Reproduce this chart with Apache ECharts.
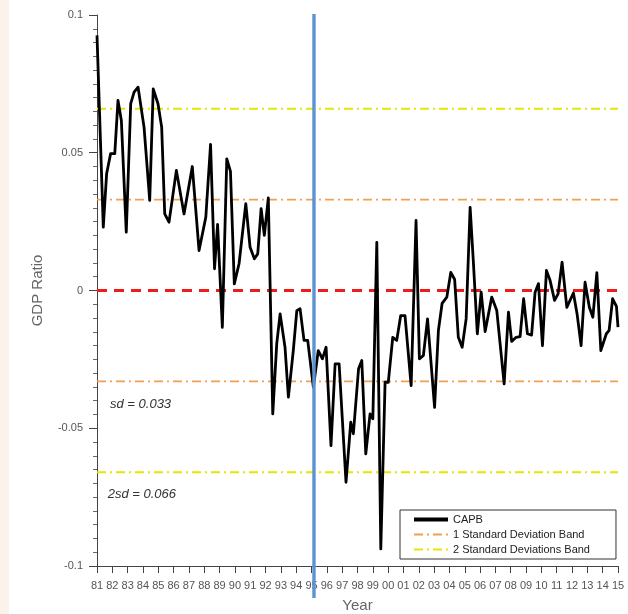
<!DOCTYPE html>
<html>
<head>
<meta charset="utf-8">
<script src="https://cdn.jsdelivr.net/npm/echarts@6/dist/echarts.min.js"></script>
<style>
html,body{margin:0;padding:0;background:#fff;}
#c{width:628px;height:614px;}
</style>
</head>
<body>
<div id="c"></div>
<script>
// ---- data ----
const years = [1981.00,1981.41,1981.63,1981.89,1982.16,1982.37,1982.59,1982.91,1983.20,1983.42,1983.68,1984.07,1984.44,1984.67,1984.98,1985.22,1985.42,1985.70,1986.18,1986.68,1987.22,1987.66,1988.10,1988.41,1988.67,1988.87,1989.18,1989.47,1989.71,1989.96,1990.27,1990.71,1990.99,1991.27,1991.49,1991.71,1991.92,1992.18,1992.47,1992.73,1992.95,1993.27,1993.49,1993.81,1994.04,1994.25,1994.51,1994.75,1995.12,1995.44,1995.71,1995.95,1996.27,1996.54,1996.80,1997.25,1997.56,1997.73,1998.07,1998.28,1998.54,1998.82,1999.00,1999.26,1999.52,1999.80,2000.01,2000.30,2000.56,2000.82,2001.10,2001.50,2001.82,2002.04,2002.30,2002.57,2003.03,2003.28,2003.52,2003.83,2004.09,2004.34,2004.58,2004.83,2005.09,2005.35,2005.56,2005.82,2006.07,2006.33,2006.76,2007.09,2007.57,2007.85,2008.06,2008.35,2008.61,2008.84,2009.09,2009.36,2009.59,2009.81,2010.07,2010.33,2010.57,2010.86,2011.09,2011.35,2011.66,2012.09,2012.33,2012.59,2012.85,2013.13,2013.36,2013.62,2013.88,2014.24,2014.42,2014.65,2014.90,2015.00];
const capb = [0.0926,0.0230,0.0425,0.0497,0.0497,0.0690,0.0617,0.0212,0.0678,0.0720,0.0738,0.0593,0.0327,0.0732,0.0678,0.0593,0.0278,0.0248,0.0436,0.0278,0.0450,0.0145,0.0266,0.0530,0.0079,0.0240,-0.0134,0.0478,0.0432,0.0024,0.0097,0.0315,0.0157,0.0115,0.0133,0.0297,0.0200,0.0336,-0.0448,-0.0193,-0.0085,-0.0206,-0.0387,-0.0218,-0.0073,-0.0066,-0.0181,-0.0181,-0.0351,-0.0218,-0.0248,-0.0206,-0.0563,-0.0266,-0.0266,-0.0696,-0.0478,-0.0520,-0.0284,-0.0254,-0.0593,-0.0448,-0.0466,0.0175,-0.0938,-0.0333,-0.0333,-0.0170,-0.0181,-0.0091,-0.0091,-0.0345,0.0254,-0.0248,-0.0236,-0.0103,-0.0424,-0.0145,-0.0047,-0.0024,0.0066,0.0040,-0.0170,-0.0206,-0.0103,0.0302,0.0105,-0.0157,-0.0006,-0.0149,-0.0024,-0.0073,-0.0339,-0.0079,-0.0185,-0.0170,-0.0167,-0.0030,-0.0157,-0.0162,-0.0006,0.0025,-0.0200,0.0073,0.0036,-0.0036,-0.0012,0.0103,-0.0061,-0.0009,-0.0085,-0.0200,0.0030,-0.0061,-0.0097,0.0065,-0.0218,-0.0157,-0.0145,-0.0030,-0.0058,-0.0133];
const sd = 0.033;
const twoSd = 0.066;
const xRange = [1981, 2015];
const yTicks = [-0.1, -0.05, 0, 0.05, 0.1];
const breakYear = 1995.16;
const sdLabel = 'sd = 0.033';
const twoSdLabel = '2sd = 0.066';

const chart = echarts.init(document.getElementById('c'), null, {renderer:'canvas'});
const font = 'Liberation Sans, Arial, sans-serif';
const dashDot = [9,4,2,4];

function hline(v){ return [[xRange[0], v],[xRange[1], v]]; }

const option = {
  animation:false,
  backgroundColor:'#ffffff',
  textStyle:{fontFamily:font},
  grid:{left:97,right:10,top:15,bottom:48,containLabel:false,outerBoundsMode:'none'},
  xAxis:{
    type:'value', min:xRange[0], max:xRange[1], interval:1,
    name:'Year', nameLocation:'middle', nameGap:32,
    nameTextStyle:{color:'#666',fontSize:15,fontFamily:font},
    axisLine:{show:true,onZero:false,lineStyle:{color:'#444',width:1}},
    axisTick:{show:true,length:7,lineStyle:{color:'#444'}},
    axisLabel:{color:'#555',fontSize:11,margin:14,fontFamily:font,
      formatter:v=>String(Math.round(v)%100).padStart(2,'0')},
    splitLine:{show:false}
  },
  yAxis:{
    type:'value', min:yTicks[0], max:yTicks[yTicks.length-1], interval:0.05,
    name:'GDP Ratio', nameLocation:'middle', nameGap:52, nameRotate:90,
    nameTextStyle:{color:'#666',fontSize:15,fontFamily:font},
    axisLine:{show:true,onZero:false,lineStyle:{color:'#444',width:1}},
    axisTick:{show:true,length:8,lineStyle:{color:'#444'}},
    minorTick:{show:true,splitNumber:10,length:4,lineStyle:{color:'#666'}},
    axisLabel:{color:'#555',fontSize:11,margin:14,fontFamily:font,
      formatter:v=>String(Math.round(v*100)/100)},
    splitLine:{show:false}
  },
  legend:{
    orient:'vertical', left:400, top:510,
    itemWidth:34, itemHeight:12, itemGap:4,
    padding:[4,26,4,12],
    backgroundColor:'#fff', borderColor:'#333', borderWidth:1,
    itemStyle:{opacity:0},
    textStyle:{color:'#222',fontSize:11,fontFamily:font},
    data:[{name:'CAPB',lineStyle:{width:4}},'1 Standard Deviation Band','2 Standard Deviations Band']
  },
  series:[
    {name:'zero',type:'line',data:hline(0),symbol:'none',silent:true,
     lineStyle:{color:'#ee1c1c',width:3,type:[10,7]},z:2},
    {name:'1 Standard Deviation Band',type:'line',data:hline(sd),symbol:'none',
     lineStyle:{color:'#f0a050',width:1.6,type:dashDot},itemStyle:{color:'#f0a050'},z:2},
    {name:'1 Standard Deviation Band',type:'line',data:hline(-sd),symbol:'none',
     lineStyle:{color:'#f0a050',width:1.6,type:dashDot},itemStyle:{color:'#f0a050'},z:2},
    {name:'2 Standard Deviations Band',type:'line',data:hline(twoSd),symbol:'none',
     lineStyle:{color:'#e6e600',width:2,type:dashDot},itemStyle:{color:'#e6e600'},z:2},
    {name:'2 Standard Deviations Band',type:'line',data:hline(-twoSd),symbol:'none',
     lineStyle:{color:'#e6e600',width:2,type:dashDot},itemStyle:{color:'#e6e600'},z:2},
    {name:'CAPB',type:'line',data:years.map((y,i)=>[y,capb[i]]),symbol:'none',
     lineStyle:{color:'#000',width:2.8,join:'round'},itemStyle:{color:'#000'},z:3}
  ]
};
chart.setOption(option);

const bx = chart.convertToPixel({xAxisIndex:0}, breakYear);
const yTop = chart.convertToPixel({yAxisIndex:0}, yTicks[yTicks.length-1]);
const yBot = chart.convertToPixel({yAxisIndex:0}, yTicks[0]);
const sdPos = chart.convertToPixel({gridIndex:0}, [1981.85, -0.0414]);
const twoSdPos = chart.convertToPixel({gridIndex:0}, [1981.7, -0.074]);

chart.setOption({
  graphic:[
    {type:'rect',left:0,top:0,z:-1,shape:{width:9,height:614},style:{fill:'#fcf2ec'}},
    {type:'line',z:50,shape:{x1:bx,y1:yTop-1,x2:bx,y2:yBot+32},
     style:{stroke:'#5b93d3',lineWidth:3.4}},
    {type:'text',z:50,x:sdPos[0],y:sdPos[1],
     style:{text:sdLabel,fill:'#333',font:'italic 13px Liberation Sans, Arial, sans-serif',verticalAlign:'middle'}},
    {type:'text',z:50,x:twoSdPos[0],y:twoSdPos[1],
     style:{text:twoSdLabel,fill:'#333',font:'italic 13px Liberation Sans, Arial, sans-serif',verticalAlign:'middle'}}
  ]
});
</script>
</body>
</html>
